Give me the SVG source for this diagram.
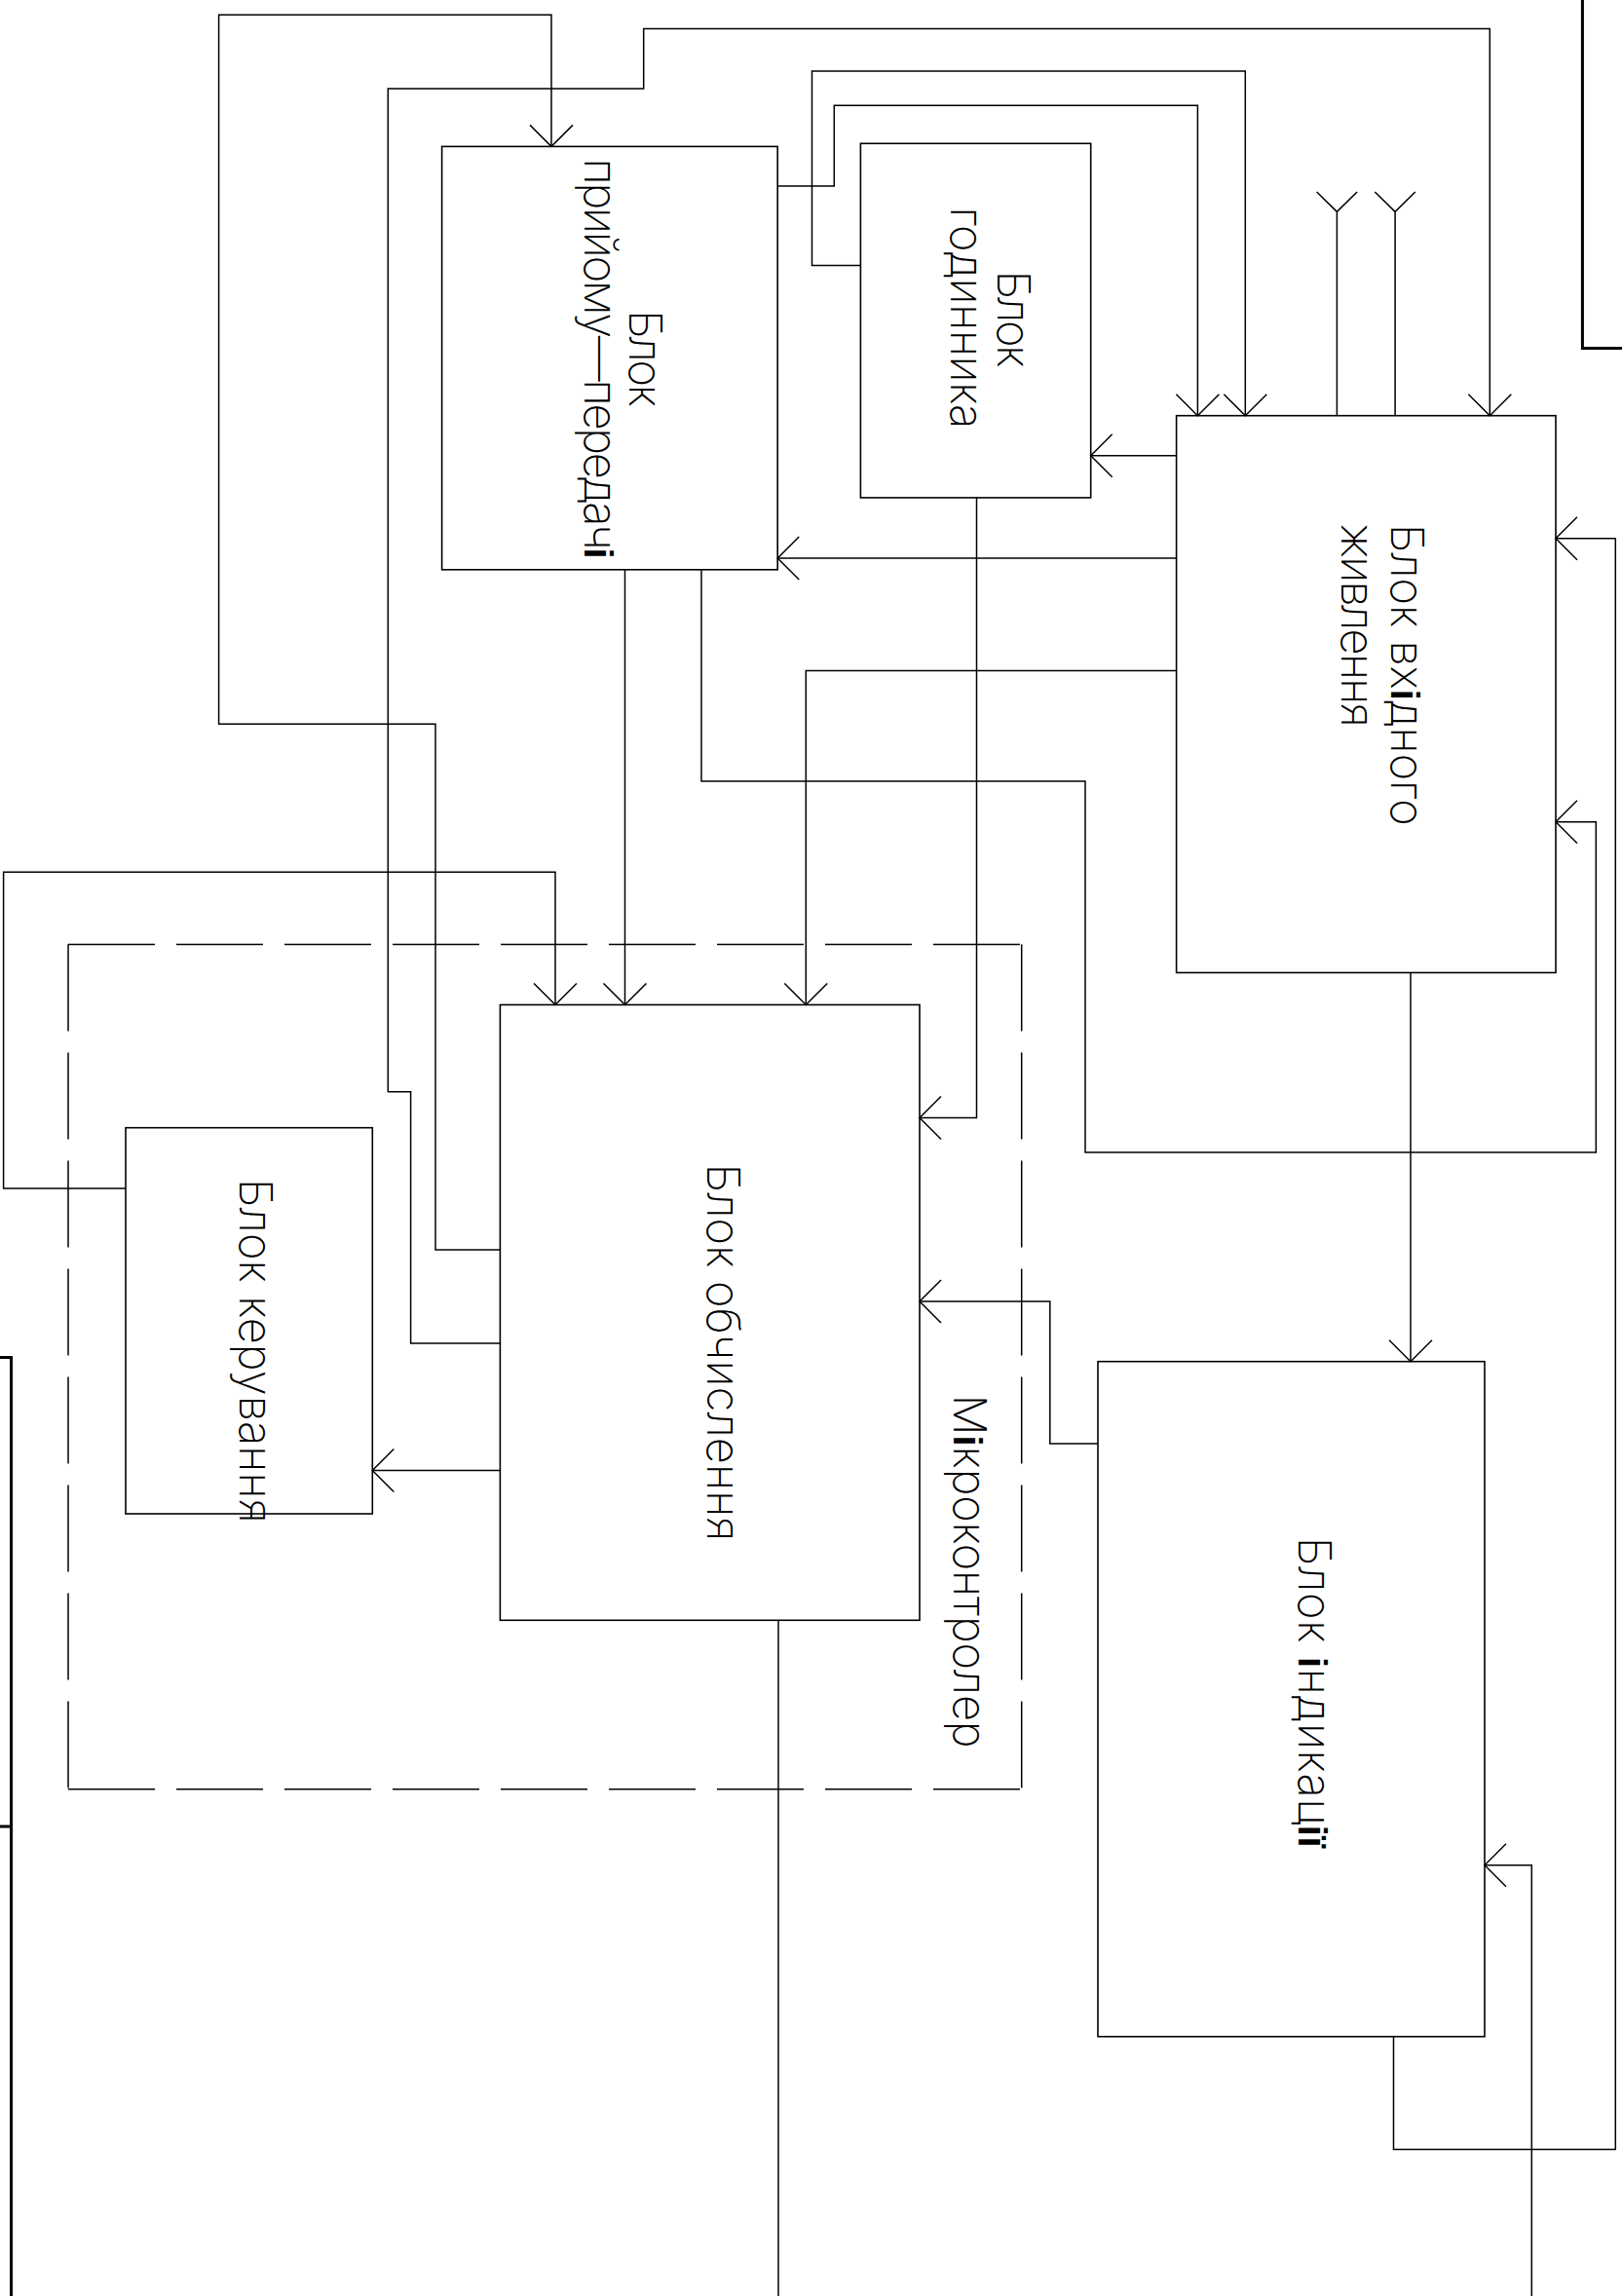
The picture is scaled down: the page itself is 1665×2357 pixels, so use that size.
<svg xmlns="http://www.w3.org/2000/svg" width="1665" height="2357" viewBox="0 0 1665 2357">
<style>
.box{fill:none;stroke:#000;stroke-width:1.6}
.ln{fill:none;stroke:#000;stroke-width:1.5}
.dash{fill:none;stroke:#000;stroke-width:1.5;stroke-dasharray:89 22}
.frame{fill:none;stroke:#000;stroke-width:3}
.t{font-family:Inter,"DejaVu Sans","Liberation Sans",sans-serif;font-weight:200;font-size:47px;fill:#000}
.b{font-family:"Liberation Sans",sans-serif;font-weight:700;font-size:40px}
</style>
<defs>
<marker id="arr" viewBox="-25 -25 50 50" refX="0" refY="0" markerWidth="50" markerHeight="50" markerUnits="userSpaceOnUse" orient="auto" overflow="visible">
<path d="M-22,-22 L0,0 L-22,22" fill="none" stroke="#000" stroke-width="1.5"/>
</marker>
</defs>
<rect width="1665" height="2357" fill="#fff"/>

<g id="frames">
<path class="frame" d="M1624.4,0 V357.5 H1665"/>
<path class="frame" d="M0,1393.5 H11.5 V2357 M0,1875 H11.5"/>
</g>

<g id="mikrokontroler">
<line class="dash" x1="70" y1="969.4" x2="1048.7" y2="969.4"/>
<line class="dash" x1="70" y1="969.4" x2="70" y2="1836.7"/>
<line class="dash" x1="1048.7" y1="969.4" x2="1048.7" y2="1836.7"/>
<line class="dash" x1="70" y1="1836.7" x2="1048.7" y2="1836.7"/>
<text class="t" transform="translate(978.6,1431.6) rotate(90)" textLength="363" lengthAdjust="spacing">М<tspan class="b">і</tspan>кроконтролер</text>
</g>

<g id="connectors">
<path class="ln" marker-end="url(#arr)" d="M513.4,1283 H447 V743.3 H224.6 V15.3 H566 V150.4"/>
<path class="ln" marker-end="url(#arr)" d="M513.4,1379 H421.6 V1120.7 H398.3 V91 H660.7 V29.5 H1529.3 V426.7"/>
<path class="ln" marker-end="url(#arr)" d="M798.2,191 H856.3 V108.3 H1229.4 V426.7"/>
<path class="ln" marker-end="url(#arr)" d="M883.4,272.5 H833.5 V73.1 H1278.3 V426.7"/>
<path class="ln" marker-end="url(#arr)" d="M1207.6,467.7 H1119.7"/>
<path class="ln" marker-end="url(#arr)" d="M1207.6,573 H798.2"/>
<path class="ln" marker-end="url(#arr)" d="M1207.6,688.4 H827.3 V1031.5"/>
<path class="ln" marker-end="url(#arr)" d="M1002.5,510.9 V1147.5 H944"/>
<path class="ln" marker-end="url(#arr)" d="M720,584.8 V802 H1114 V1183 H1638.3 V843.8 H1597"/>
<path class="ln" marker-end="url(#arr)" d="M641.5,584.8 V1031.5"/>
<path class="ln" marker-end="url(#arr)" d="M129,1220 H3.6 V895.2 H570 V1031.5"/>
<path class="ln" marker-end="url(#arr)" d="M513.4,1509.5 H382.3"/>
<path class="ln" marker-end="url(#arr)" d="M1127,1482 H1077.8 V1336 H944"/>
<path class="ln" marker-end="url(#arr)" d="M1448,998.5 V1397.7"/>
<path class="ln" marker-end="url(#arr)" d="M1430.5,2090.7 V2206.5 H1658.3 V552.7 H1597"/>
<path class="ln" marker-end="url(#arr)" d="M1572.3,2357 V1914.8 H1524"/>
<path class="ln" d="M799,1663.3 V2357"/>
<path class="ln" d="M1372.4,426.7 V217.4 M1351.6,197 L1372.4,217.4 L1393.1,197"/>
<path class="ln" d="M1432.1,426.7 V217.4 M1411.3,197 L1432.1,217.4 L1452.8,197"/>
</g>

<g id="pryiomu">
<rect class="box" x="453.6" y="150.4" width="344.6" height="434.4"/>
<text class="t" transform="translate(646,318) rotate(90)" textLength="100" lengthAdjust="spacing">Блок</text>
<text class="t" transform="translate(599.5,162.6) rotate(90)" textLength="411" lengthAdjust="spacing">прийому—передач<tspan class="b">і</tspan></text>
</g>

<g id="hodynnyka">
<rect class="box" x="883.4" y="147.3" width="236.3" height="363.6"/>
<text class="t" transform="translate(1024,277.5) rotate(90)" textLength="100" lengthAdjust="spacing">Блок</text>
<text class="t" transform="translate(976,212.4) rotate(90)" textLength="228" lengthAdjust="spacing">годинника</text>
</g>

<g id="zhyvlennia">
<rect class="box" x="1207.6" y="426.7" width="389.4" height="571.8"/>
<text class="t" transform="translate(1428,537.7) rotate(90)" textLength="310" lengthAdjust="spacing">Блок вх<tspan class="b">і</tspan>дного</text>
<text class="t" transform="translate(1377,537.7) rotate(90)" textLength="209" lengthAdjust="spacing">живлення</text>
</g>

<g id="obchyslennia">
<rect class="box" x="513.4" y="1031.5" width="430.6" height="631.8"/>
<text class="t" transform="translate(726,1194.4) rotate(90)" textLength="388" lengthAdjust="spacing">Блок обчислення</text>
</g>

<g id="keruvannia">
<rect class="box" x="129" y="1157.7" width="253.3" height="396.3"/>
<text class="t" transform="translate(245.5,1209.7) rotate(90)" textLength="354" lengthAdjust="spacing">Блок керування</text>
</g>

<g id="indykatsii">
<rect class="box" x="1127" y="1397.7" width="397" height="693"/>
<text class="t" transform="translate(1333,1577.7) rotate(90)" textLength="319" lengthAdjust="spacing">Блок <tspan class="b">і</tspan>ндикац<tspan class="b">ії</tspan></text>
</g>
</svg>
